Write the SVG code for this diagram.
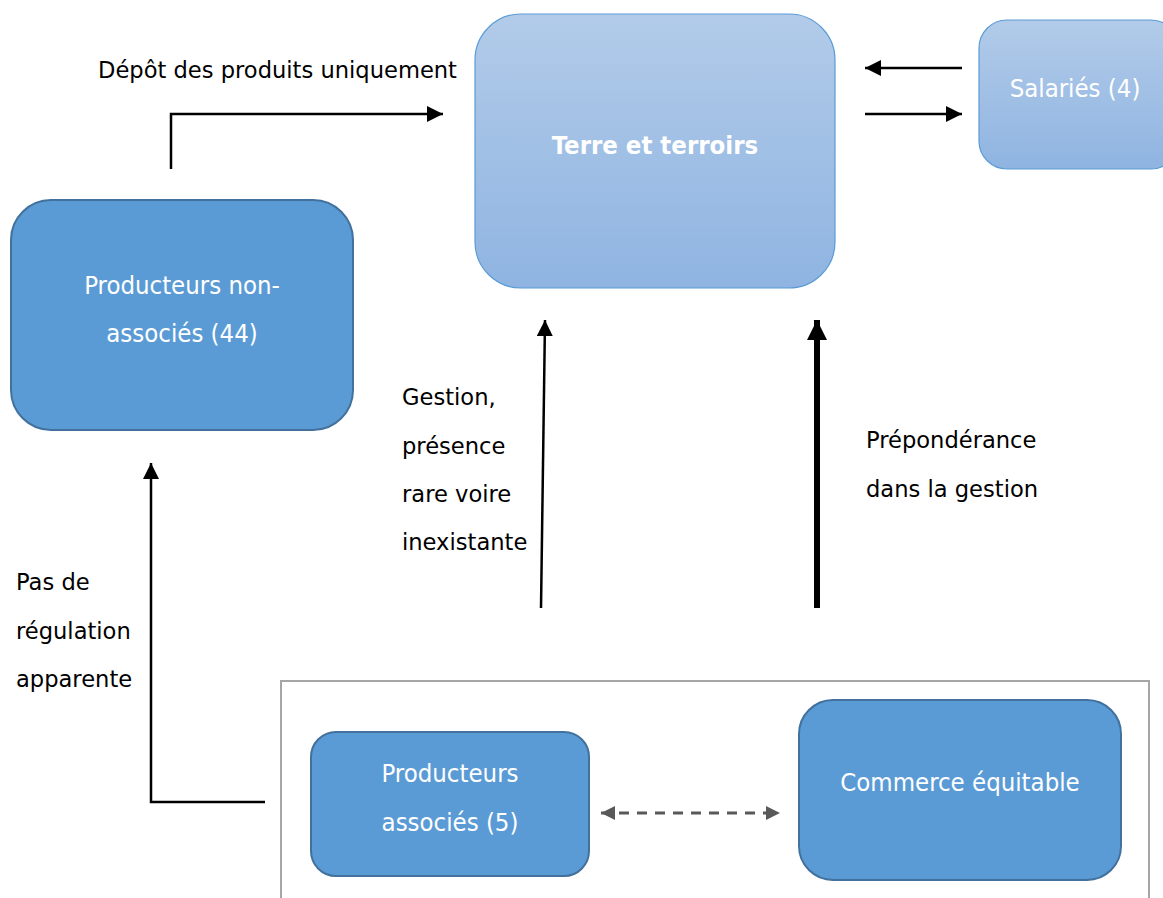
<svg xmlns="http://www.w3.org/2000/svg" width="1163" height="898" viewBox="0 0 1163 898">
<style>
.lbl{font-family:"DejaVu Sans","Liberation Sans",sans-serif;font-size:22.6px;fill:#000}
.bt{font-family:"DejaVu Sans Condensed","DejaVu Sans",sans-serif;font-size:25.5px;fill:#fff;text-anchor:middle}
.node{fill:#5b9bd5;stroke:#41719c;stroke-width:2}
.light{fill:url(#lg);stroke:#5b9bd5;stroke-width:1.2}
.conn{fill:none;stroke:#000;stroke-width:2.5}
</style>
<defs>
<linearGradient id="lg" x1="0" y1="0" x2="0" y2="1">
<stop offset="0" stop-color="#b2cbe9"/>
<stop offset="1" stop-color="#8fb4e1"/>
</linearGradient>
<marker id="a" viewBox="0 0 10 10" refX="10" refY="5" markerWidth="16" markerHeight="16" markerUnits="userSpaceOnUse" orient="auto">
<path d="M0,0 L10,5 L0,10 Z" fill="#000"/>
</marker>
<marker id="at" viewBox="0 0 10 10" refX="10" refY="5" markerWidth="20" markerHeight="20" markerUnits="userSpaceOnUse" orient="auto">
<path d="M0,0 L10,5 L0,10 Z" fill="#000"/>
</marker>
<marker id="ag" viewBox="0 0 10 10" refX="10" refY="5" markerWidth="14" markerHeight="14" markerUnits="userSpaceOnUse" orient="auto-start-reverse">
<path d="M0,0 L10,5 L0,10 Z" fill="#595959"/>
</marker>
</defs>

<g id="frame">
<path d="M281,898 L281,681 L1149,681 L1149,898" fill="none" stroke="#a6a6a6" stroke-width="2"/>
</g>

<g id="terre">
<rect class="light" x="475" y="14" width="360" height="274" rx="46"/>
<text x="655" y="154" class="bt" style="font-weight:bold">Terre et terroirs</text>
</g>

<g id="salaries">
<rect class="light" x="979" y="20" width="200" height="149" rx="28"/>
<text x="1075" y="97" class="bt">Salariés (4)</text>
</g>

<g id="nonassocies">
<rect class="node" x="11" y="200" width="342" height="230" rx="40"/>
<text x="182" y="294" class="bt">Producteurs non-</text>
<text x="182" y="342" class="bt">associés (44)</text>
</g>

<g id="associes">
<rect class="node" x="311" y="732" width="278" height="144" rx="25"/>
<text x="450" y="782" class="bt">Producteurs</text>
<text x="450" y="831" class="bt">associés (5)</text>
</g>

<g id="commerce">
<rect class="node" x="799" y="700" width="322" height="180" rx="34"/>
<text x="960" y="791" class="bt">Commerce équitable</text>
</g>

<g id="connectors">
<path class="conn" d="M171,169 L171,114 L443,114" marker-end="url(#a)"/>
<path class="conn" d="M962,68 L865,68" marker-end="url(#a)"/>
<path class="conn" d="M865,114 L962,114" marker-end="url(#a)"/>
<path class="conn" d="M541,608 L545,320" marker-end="url(#a)"/>
<path d="M817,608 L817,320" fill="none" stroke="#000" stroke-width="6" marker-end="url(#at)"/>
<path class="conn" d="M265,802 L151,802 L151,463" marker-end="url(#a)"/>
<path d="M601,813 L780,813" fill="none" stroke="#595959" stroke-width="3" stroke-dasharray="10,8" marker-start="url(#ag)" marker-end="url(#ag)"/>
</g>

<g id="labels">
<text x="98" y="78" class="lbl">Dépôt des produits uniquement</text>
<text x="402" y="405" class="lbl">Gestion,</text>
<text x="402" y="454" class="lbl">présence</text>
<text x="402" y="502" class="lbl">rare voire</text>
<text x="402" y="550" class="lbl">inexistante</text>
<text x="866" y="448" class="lbl">Prépondérance</text>
<text x="866" y="497" class="lbl">dans la gestion</text>
<text x="16" y="590" class="lbl">Pas de</text>
<text x="16" y="639" class="lbl">régulation</text>
<text x="16" y="687" class="lbl">apparente</text>
</g>
</svg>
